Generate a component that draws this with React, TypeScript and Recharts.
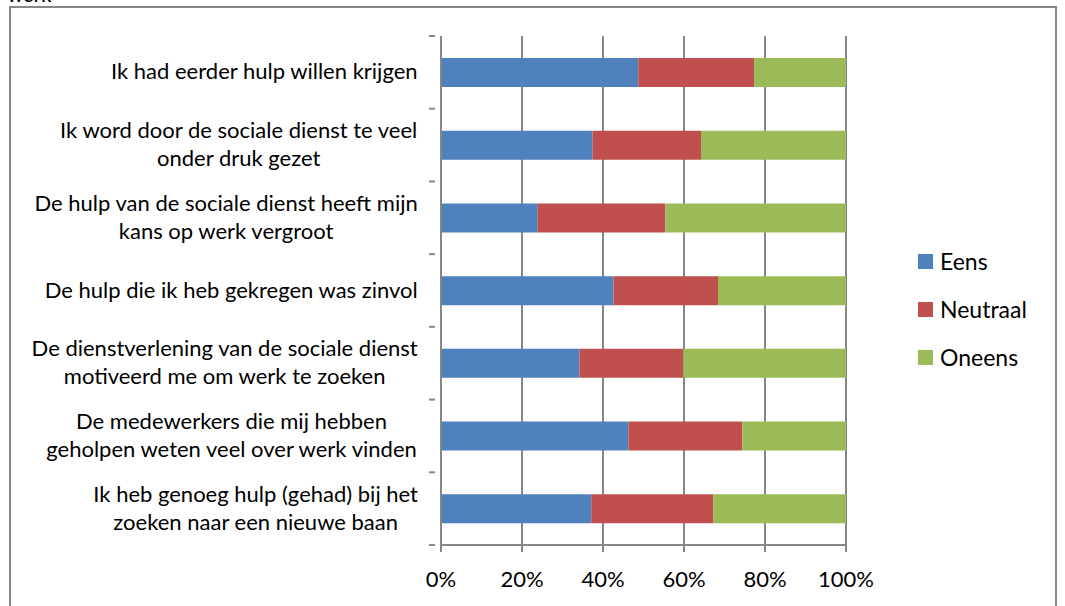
import React from 'react';
import { BarChart, Bar, XAxis, YAxis, CartesianGrid } from 'recharts';

const categories = [
  'Ik had eerder hulp willen krijgen',
  'Ik word door de sociale dienst te veel\nonder druk gezet',
  'De hulp van de sociale dienst heeft mijn\nkans op werk vergroot',
  'De hulp die ik heb gekregen was zinvol',
  'De dienstverlening van de sociale dienst\nmotiveerd me om werk te zoeken',
  'De medewerkers die mij hebben\ngeholpen weten veel over werk vinden',
  'Ik heb genoeg hulp (gehad) bij het\nzoeken naar een nieuwe baan',
];
const eens = [48.7, 37.4, 23.9, 42.6, 34.2, 46.3, 37.1];
const neutraal = [28.6, 26.8, 31.5, 25.8, 25.6, 28.1, 30.1];
const oneens = [22.7, 35.8, 44.6, 31.6, 40.2, 25.6, 32.8];
const xTicks = [0, 20, 40, 60, 80, 100];
const seriesNames = ['Eens', 'Neutraal', 'Oneens'];
const seriesKeys = ['eens', 'neutraal', 'oneens'];
const seriesColors = ['#4F81BD', '#C0504D', '#9BBB59'];

const data = categories.map((name, i) => ({
  name,
  eens: eens[i],
  neutraal: neutraal[i],
  oneens: oneens[i],
}));

const FONT = 'Lato, "Open Sans", sans-serif';
const LABEL_SIZE = 22;
const GRAY = '#878787';
const CHART_W = 1065;
const CHART_H = 606;
const MARGIN = { top: 36, right: 219, bottom: 0, left: 0 };
const X_AXIS_H = 61;
const Y_AXIS_W = 441;
const Y_TICK_MARGIN = 17;
const BAND = (CHART_H - MARGIN.top - MARGIN.bottom - X_AXIS_H) / categories.length;

let ctx: CanvasRenderingContext2D | null = null;
function measure(t: string, size: number) {
  if (!ctx) ctx = document.createElement('canvas').getContext('2d');
  if (!ctx) return t.length * size * 0.47;
  ctx.font = `${size}px Lato`;
  return ctx.measureText(t).width;
}

const YTick = (props: any) => {
  const { x, y, payload, index } = props;
  const lines = String(payload.value).split('\n');
  const w = Math.max(...lines.map((l) => measure(l, LABEL_SIZE)));
  const cx = x - w / 2;
  const lh = 28;
  const start = y - ((lines.length - 1) * lh) / 2 - 1.5;
  const axisX = x + Y_TICK_MARGIN;
  const isLast = index === categories.length - 1;
  return (
    <g>
      <line x1={axisX - 6} x2={axisX} y1={y - BAND / 2} y2={y - BAND / 2} stroke={GRAY} strokeWidth={2} />
      {isLast && (
        <line x1={axisX - 6} x2={axisX} y1={y + BAND / 2} y2={y + BAND / 2} stroke={GRAY} strokeWidth={2} />
      )}
      {lines.map((l, i) => (
        <text
          key={i}
          x={cx}
          y={start + i * lh}
          textAnchor="middle"
          dominantBaseline="central"
          fontSize={LABEL_SIZE}
          fontFamily={FONT}
          fill="#000"
        >
          {l}
        </text>
      ))}
    </g>
  );
};

const LegendBox = () => (
  <div
    style={{
      position: 'absolute',
      left: 918,
      top: 237,
      width: 140,
      fontFamily: FONT,
      fontSize: 23,
      color: '#000',
    }}
  >
    {seriesNames.map((n, i) => (
      <div key={n} style={{ height: 48, display: 'flex', alignItems: 'center' }}>
        <span
          style={{
            display: 'inline-block',
            width: 15,
            height: 15,
            background: seriesColors[i],
            marginRight: 7,
          }}
        />
        <span>{n}</span>
      </div>
    ))}
  </div>
);

export default function App() {
  return (
    <div
      style={{
        position: 'absolute',
        left: 0,
        top: 0,
        width: CHART_W,
        height: CHART_H,
        overflow: 'hidden',
        background: '#fff',
      }}
    >
      <div
        style={{
          position: 'absolute',
          left: 9,
          top: 6,
          width: 1048,
          height: 640,
          border: `2px solid ${GRAY}`,
          boxSizing: 'border-box',
        }}
      />
      <div
        style={{
          position: 'absolute',
          left: 8,
          top: -17,
          fontFamily: FONT,
          fontStyle: 'italic',
          fontSize: 22,
          lineHeight: '22px',
          color: '#000',
        }}
      >
        werk
      </div>
      <BarChart
        width={CHART_W}
        height={CHART_H}
        data={data}
        layout="vertical"
        margin={MARGIN}
        barSize={29}
        style={{ position: 'absolute', left: 0, top: 0 }}
      >
        <CartesianGrid horizontal={false} vertical={true} stroke={GRAY} strokeWidth={2} />
        <XAxis
          type="number"
          domain={[0, 100]}
          ticks={xTicks}
          tickFormatter={(v: number) => `${v}%`}
          height={X_AXIS_H}
          tickSize={7}
          tickMargin={19}
          axisLine={{ stroke: GRAY, strokeWidth: 2 }}
          tickLine={{ stroke: GRAY, strokeWidth: 2 }}
          tick={{ fill: '#000', fontSize: 22, fontFamily: FONT }}
          interval={0}
        />
        <YAxis
          dataKey="name"
          type="category"
          width={Y_AXIS_W}
          tickLine={false}
          axisLine={{ stroke: GRAY, strokeWidth: 2 }}
          tickMargin={Y_TICK_MARGIN}
          tick={<YTick />}
          interval={0}
        />
        {seriesKeys.map((k, i) => (
          <Bar
            key={k}
            dataKey={k}
            name={seriesNames[i]}
            stackId="a"
            fill={seriesColors[i]}
            isAnimationActive={false}
          />
        ))}
      </BarChart>
      <LegendBox />
    </div>
  );
}
